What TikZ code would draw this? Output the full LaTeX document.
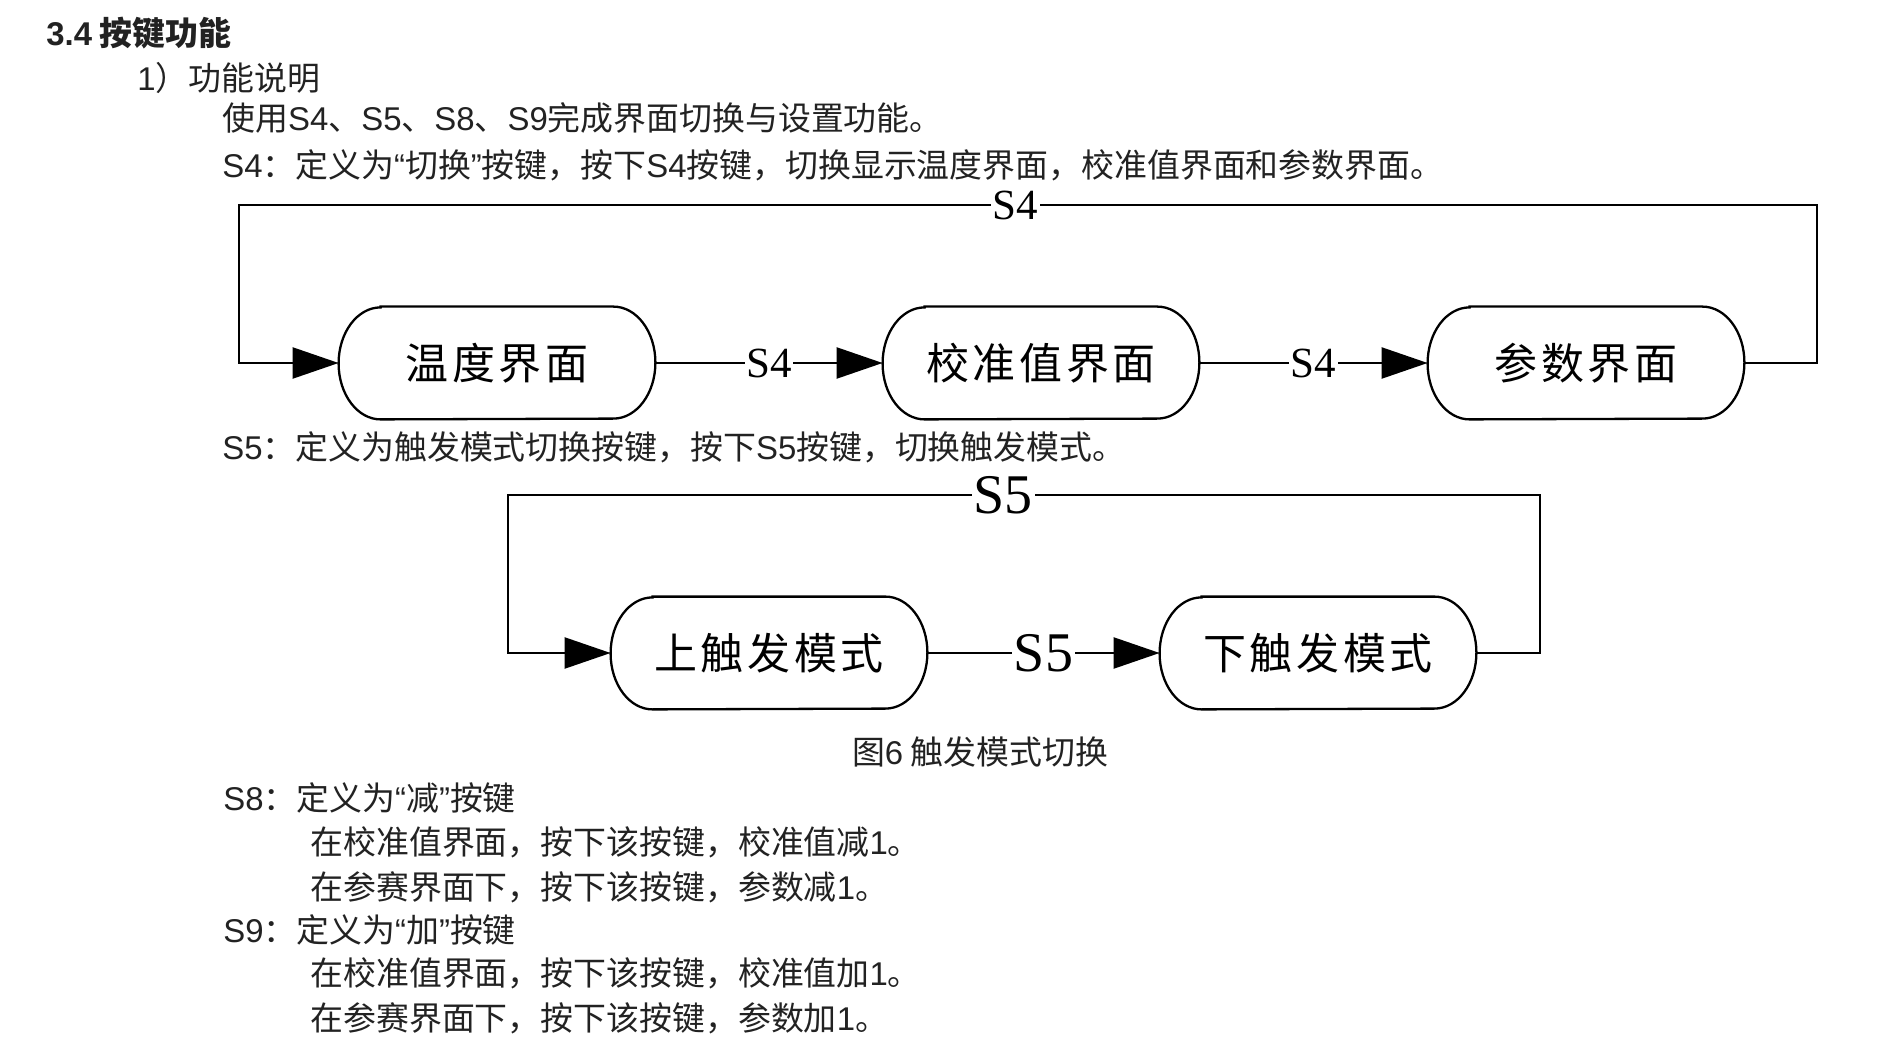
\documentclass[tikz,border=0pt]{standalone}
\usepackage{fontspec}
\usetikzlibrary{arrows.meta}
\setmainfont{Noto Sans CJK SC}
\newfontfamily\latinf{Liberation Sans}
\newfontfamily\seriff{Liberation Serif}
\newcommand\lt[1]{{\latinf #1}}
\newcommand\dg{\hspace{1.8pt}}
\definecolor{textc}{RGB}{34,34,34}
\tikzset{
  body/.style={anchor=west, inner sep=0pt, text=textc, font=\fontsize{16.45pt}{20pt}\selectfont},
  state/.style={rectangle, draw=none, inner sep=0pt, minimum width=158pt, minimum height=56pt, font=\fontsize{21.5pt}{24pt}\selectfont},
  border/.style={draw=black, line width=1.15pt},
  conn/.style={draw=black, line width=1.15pt},
  arr/.style={conn, -{Triangle[length=23pt,width=15.5pt]}},
  lblA/.style={fill=white, inner sep=0.8pt, font=\seriff\fontsize{21.5pt}{24pt}\selectfont},
  lblB/.style={fill=white, inner sep=0.8pt, font=\seriff\fontsize{28pt}{30pt}\selectfont},
}
\newcommand\stateborder[1]{%
  \draw[border] ([xshift=21pt]#1.north west) -- ([xshift=-21pt]#1.north east)
    arc[start angle=90, end angle=-90, x radius=21pt, y radius=28pt]
    -- ([xshift=21pt]#1.south west)
    arc[start angle=270, end angle=90, x radius=21pt, y radius=28pt] -- cycle;}
\begin{document}
\begin{tikzpicture}[x=0.5pt,y=-0.5pt]
\useasboundingbox[fill=white] (0,0) rectangle (1880,1037);

% text
\node[body] (t1) at (46,33) {\bfseries\lt{3.4} 按键功能};
\node[body] (t2) at (137,78) {\lt{1}）功能说明};
\node[body] (t3) at (222,118) {使用\lt{S4}、\lt{S5}、\lt{S8}、\lt{S9}完成界面切换与设置功能。};
\node[body] (t4) at (222,165) {\lt{S4}：定义为\lt{“}切换\lt{”}按键，按下\lt{S4}按键，切换显示温度界面，校准值界面和参数界面。};
\node[body] (t5) at (222,447) {\lt{S5}：定义为触发模式切换按键，按下\lt{S5}按键，切换触发模式。};
\node[body, anchor=center] (cap) at (980,752) {图\lt{6} 触发模式切换};
\node[body] (t6) at (223,798) {\lt{S8}：定义为\lt{“}减\lt{”}按键};
\node[body] (t7) at (310,842) {在校准值界面，按下该按键，校准值减\lt{1}。};
\node[body] (t8) at (310,887) {在参赛界面下，按下该按键，参数减\lt{1}。};
\node[body] (t9) at (223,930) {\lt{S9}：定义为\lt{“}加\lt{”}按键};
\node[body] (t10) at (310,973) {在校准值界面，按下该按键，校准值加\lt{1}。};
\node[body] (t11) at (310,1018) {在参赛界面下，按下该按键，参数加\lt{1}。};

% diagram 1
\node[state] (n1) at (497,363) {温\dg 度\dg 界\dg 面};
\node[state] (n2) at (1041,363) {校\dg 准\dg 值\dg 界\dg 面};
\node[state] (n3) at (1586,363) {参\dg 数\dg 界\dg 面};
\foreach \n in {n1,n2,n3} {\stateborder{\n}}
\coordinate (r1) at (1817,205);
\coordinate (l1) at (239,205);
\draw[arr] (n3.east) -| (r1) -- node[lblA, pos=0.508] (s4top) {S4} (l1) |- (n1.west);
\draw[arr] (n1.east) -- node[lblA] (s4a) {S4} (n2.west);
\draw[arr] (n2.east) -- node[lblA] (s4b) {S4} (n3.west);

% diagram 2
\node[state] (n4) at (769,653) {上\dg 触\dg 发\dg 模\dg 式};
\node[state] (n5) at (1318,653) {下\dg 触\dg 发\dg 模\dg 式};
\foreach \n in {n4,n5} {\stateborder{\n}}
\coordinate (r2) at (1540,495);
\coordinate (l2) at (508,495);
\draw[arr] (n5.east) -| (r2) -- node[lblB, pos=0.520] (s5top) {S5} (l2) |- (n4.west);
\draw[arr] (n4.east) -- node[lblB] (s5a) {S5} (n5.west);
\end{tikzpicture}
\end{document}
